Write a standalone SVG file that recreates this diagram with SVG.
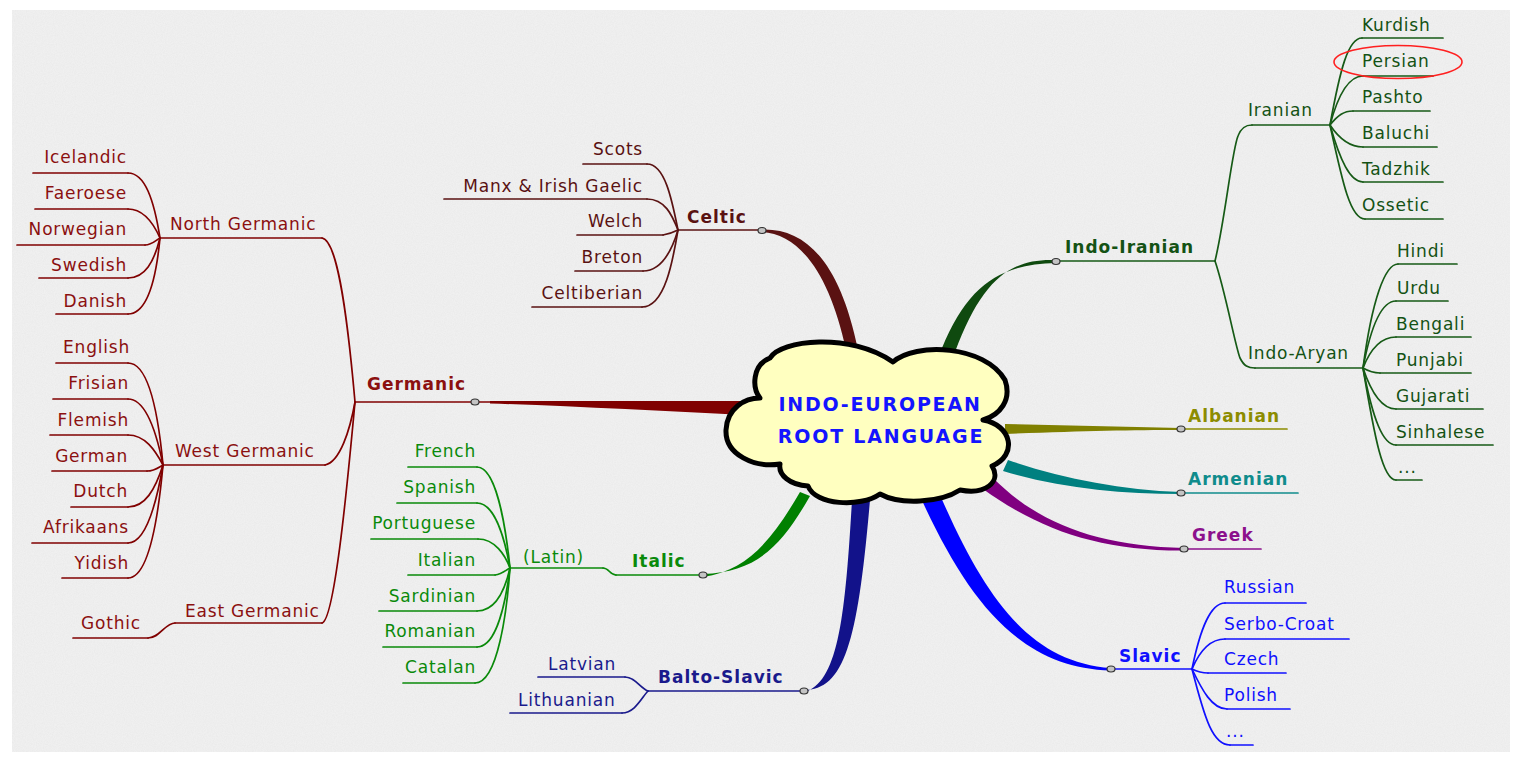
<svg xmlns="http://www.w3.org/2000/svg" width="1513" height="757" viewBox="0 0 1513 757">
<defs>
<filter id="tex" x="0" y="0" width="100%" height="100%">
<feTurbulence type="fractalNoise" baseFrequency="0.9" numOctaves="2" seed="4"/>
<feColorMatrix type="matrix" values="0 0 0 0 0.55  0 0 0 0 0.55  0 0 0 0 0.55  0 0 0 0.22 -0.06"/>
</filter>
</defs>
<style>
text{font-family:"DejaVu Sans","Liberation Sans",sans-serif;font-size:17px;letter-spacing:0.8px}
.b{font-weight:bold;letter-spacing:1px}
.r{text-anchor:end}
.c{text-anchor:middle}
line,.ln{fill:none;stroke-width:1.7;stroke-linecap:round}
.knob{fill:#c4c4c4;stroke:#333;stroke-width:1.2}
.ger line,.ger .ln{stroke:#800000}.ger text{fill:#8b1010}.ger .tp{fill:#800000}
.cel line,.cel .ln{stroke:#5a1212}.cel text{fill:#5a1212}.cel .tp{fill:#5a1212}
.ita line,.ita .ln{stroke:#0a8a0a}.ita text{fill:#0a8a0a}.ita .tp{fill:#008000}
.bal line,.bal .ln{stroke:#1a1a8c}.bal text{fill:#1a1a8c}.bal .tp{fill:#12128a}
.ind line,.ind .ln{stroke:#165a16}.ind text{fill:#145214}.ind .tp{fill:#0f4a0f}
.alb line,.alb .ln{stroke:#8c8c00}.alb text{fill:#8c8c00}.alb .tp{fill:#808000}
.arm line,.arm .ln{stroke:#108c8c}.arm text{fill:#108c8c}.arm .tp{fill:#008080}
.gre line,.gre .ln{stroke:#8c108c}.gre text{fill:#8c108c}.gre .tp{fill:#800080}
.sla line,.sla .ln{stroke:#1010ff}.sla text{fill:#1010ff}.sla .tp{fill:#0000ff}
</style>
<rect width="1513" height="757" fill="#ffffff"/>
<rect x="12" y="10" width="1498" height="742" fill="#f0f0f0"/>
<rect x="12" y="10" width="1498" height="742" filter="url(#tex)"/>

<g id="connectors">
<g class="ger">
<path class="tp" d="M490,401 L745,401 L745,415 C660,411 570,406 490,403.5 Z"/>
<path class="ln" d="M322,238 C336,240 346,300 355,402"/>
<path class="ln" d="M325,465 C340,462 350,430 355,402"/>
<path class="ln" d="M322,623 C334,620 346,500 355,402"/>
<path class="ln" d="M128,173 C145,173 154,200 160,238"/>
<path class="ln" d="M128,209 C142,209 152,220 160,238"/>
<path class="ln" d="M145,245 C152,245 156,240 160,238"/>
<path class="ln" d="M128,278 C145,278 154,262 160,238"/>
<path class="ln" d="M128,314 C147,314 156,280 160,238"/>
<path class="ln" d="M128,363 C146,363 157,400 163,465"/>
<path class="ln" d="M128,399 C145,399 156,430 163,465"/>
<path class="ln" d="M128,435 C145,435 155,450 163,465"/>
<path class="ln" d="M147,471 C155,471 159,467 163,465"/>
<path class="ln" d="M128,507 C145,507 155,490 163,465"/>
<path class="ln" d="M128,543 C146,543 157,500 163,465"/>
<path class="ln" d="M128,578 C148,578 158,520 163,465"/>
<path class="ln" d="M148,638 C160,638 165,623 175,623"/>
</g>
<g class="cel">
<path class="tp" d="M762,229.5 C806,228 840,262 858,350 L846,350 C830,275 800,234 762,232 Z"/>
<path class="ln" d="M647,164 C665,164 672,200 678,230"/>
<path class="ln" d="M647,199 C665,199 672,215 678,230"/>
<path class="ln" d="M663,235 C670,234 674,232 678,230"/>
<path class="ln" d="M643,271 C662,271 672,250 678,230"/>
<path class="ln" d="M642,307 C665,307 673,260 678,230"/>
</g>
<g class="ita">
<path class="tp" d="M703,574 C758,572 782,545 810,496 L800,492 C772,540 748,570 703,577 Z"/>
<path class="ln" d="M477,467 C495,467 505,520 510,568"/>
<path class="ln" d="M477,503 C495,503 505,540 510,568"/>
<path class="ln" d="M478,539 C495,539 505,555 510,568"/>
<path class="ln" d="M495,575 C502,574 506,570 510,568"/>
<path class="ln" d="M477,611 C495,611 505,590 510,568"/>
<path class="ln" d="M477,647 C497,647 506,600 510,568"/>
<path class="ln" d="M475,683 C498,683 507,610 510,568"/>
<path class="ln" d="M603,568 C609,568 610,575 616,575"/>
</g>
<g class="bal">
<path class="tp" d="M804,690 C845,690 858,640 870,500 L852,500 C845,620 838,682 804,692.5 Z"/>
<path class="ln" d="M625,677 C635,677 640,688 648,691"/>
<path class="ln" d="M622,713 C635,713 642,697 648,691"/>
</g>
<g class="ind">
<path class="tp" d="M1056,260 C1010,258 982,280 955,352 L942,348 C968,285 1000,264 1056,263 Z"/>
<path class="ln" d="M1215,261 C1225,220 1232,150 1238,136 C1241,128 1245,125 1252,125"/>
<path class="ln" d="M1215,261 C1225,290 1235,345 1240,358 C1244,366 1248,368 1255,368"/>
<path class="ln" d="M1330,125 C1340,70 1348,38 1362,38"/>
<path class="ln" d="M1330,125 C1338,95 1348,76 1363,76"/>
<path class="ln" d="M1330,125 C1338,115 1344,111 1353,111"/>
<path class="ln" d="M1330,125 C1340,140 1350,147 1363,147"/>
<path class="ln" d="M1330,125 C1340,160 1350,182 1363,182"/>
<path class="ln" d="M1330,125 C1342,180 1350,219 1365,219"/>
<path class="ln" d="M1363,368 C1372,300 1385,264 1398,264"/>
<path class="ln" d="M1363,368 C1372,320 1383,301 1396,301"/>
<path class="ln" d="M1363,368 C1372,345 1383,337 1396,337"/>
<path class="ln" d="M1363,368 C1370,372 1375,373 1380,373"/>
<path class="ln" d="M1363,368 C1372,395 1383,409 1396,409"/>
<path class="ln" d="M1363,368 C1373,420 1383,445 1396,445"/>
<path class="ln" d="M1363,368 C1375,440 1383,480 1396,480"/>
</g>
<g class="alb"><path class="tp" d="M1181,428 L1005,424 L1005,434 C1080,431 1130,430 1181,430 Z"/></g>
<g class="arm"><path class="tp" d="M1181,492 C1120,490 1060,478 1008,460 L1003,471 C1060,488 1120,494 1181,494 Z"/></g>
<g class="gre"><path class="tp" d="M1184,548 C1100,546 1040,525 993,478 L983,489 C1040,530 1100,551 1184,550.5 Z"/></g>
<g class="sla">
<path class="tp" d="M1111,668 C1030,662 985,600 937,488 L919,494 C968,602 1020,668 1111,670.5 Z"/>
<path class="ln" d="M1192,669 C1200,630 1210,603 1225,603"/>
<path class="ln" d="M1192,669 C1200,650 1210,639 1225,639"/>
<path class="ln" d="M1192,669 C1198,672 1202,673 1208,673"/>
<path class="ln" d="M1192,669 C1202,690 1212,709 1227,709"/>
<path class="ln" d="M1192,669 C1205,720 1213,745 1230,745"/>
</g>
</g>

<g id="root">
<path d="M760,398 C752,388 752,365 770,358 C780,340 850,332 893,362 C915,342 985,345 1005,380 C1012,400 1000,415 983,420 C1012,425 1018,455 992,466 C1002,482 985,495 960,490 C940,503 900,505 880,494 C860,508 815,505 808,486 C790,485 778,475 780,464 C755,468 725,455 726,430 C727,408 745,398 760,398 Z" fill="#ffffc0" stroke="#000" stroke-width="5" stroke-linejoin="round"/>
<text class="b c" x="880" y="411" style="font-size:19px;letter-spacing:1.8px;fill:#1414ff">INDO-EUROPEAN</text>
<text class="b c" x="881" y="443" style="font-size:19px;letter-spacing:1.8px;fill:#1414ff">ROOT LANGUAGE</text>
</g>

<g class="ger">
<g id="germanic"><line x1="355" y1="402" x2="490" y2="402"/><ellipse class="knob" cx="475" cy="402" rx="4" ry="3"/><text class="b" x="367" y="390">Germanic</text></g>
<g id="north-germanic"><line x1="160" y1="238" x2="322" y2="238"/><text x="170" y="230">North Germanic</text></g>
<g id="west-germanic"><line x1="163" y1="465" x2="325" y2="465"/><text x="175" y="457">West Germanic</text></g>
<g id="east-germanic"><line x1="175" y1="623" x2="322" y2="623"/><text x="185" y="617">East Germanic</text></g>
<g id="gothic"><line x1="73" y1="638" x2="148" y2="638"/><text class="r" x="141" y="629">Gothic</text></g>
<g id="icelandic"><line x1="33" y1="173" x2="128" y2="173"/><text class="r" x="127" y="163">Icelandic</text></g>
<g id="faeroese"><line x1="35" y1="209" x2="128" y2="209"/><text class="r" x="127" y="199">Faeroese</text></g>
<g id="norwegian"><line x1="17" y1="245" x2="145" y2="245"/><text class="r" x="127" y="235">Norwegian</text></g>
<g id="swedish"><line x1="39" y1="278" x2="128" y2="278"/><text class="r" x="127" y="271">Swedish</text></g>
<g id="danish"><line x1="56" y1="314" x2="128" y2="314"/><text class="r" x="127" y="307">Danish</text></g>
<g id="english"><line x1="56" y1="363" x2="128" y2="363"/><text class="r" x="130" y="353">English</text></g>
<g id="frisian"><line x1="53" y1="399" x2="128" y2="399"/><text class="r" x="129" y="389">Frisian</text></g>
<g id="flemish"><line x1="50" y1="435" x2="128" y2="435"/><text class="r" x="129" y="426">Flemish</text></g>
<g id="german"><line x1="52" y1="471" x2="147" y2="471"/><text class="r" x="128" y="462">German</text></g>
<g id="dutch"><line x1="71" y1="507" x2="128" y2="507"/><text class="r" x="128" y="497">Dutch</text></g>
<g id="afrikaans"><line x1="32" y1="543" x2="128" y2="543"/><text class="r" x="129" y="533">Afrikaans</text></g>
<g id="yidish"><line x1="62" y1="578" x2="128" y2="578"/><text class="r" x="129" y="569">Yidish</text></g>
</g>

<g class="cel">
<g id="celtic"><line x1="678" y1="230" x2="762" y2="230"/><ellipse class="knob" cx="762" cy="230.5" rx="4" ry="3"/><text class="b" x="687" y="223">Celtic</text></g>
<g id="scots"><line x1="583" y1="164" x2="647" y2="164"/><text class="r" x="643" y="155">Scots</text></g>
<g id="manx"><line x1="444" y1="199" x2="647" y2="199"/><text class="r" x="643" y="192">Manx &amp; Irish Gaelic</text></g>
<g id="welch"><line x1="577" y1="235" x2="663" y2="235"/><text class="r" x="643" y="227">Welch</text></g>
<g id="breton"><line x1="575" y1="271" x2="643" y2="271"/><text class="r" x="643" y="263">Breton</text></g>
<g id="celtiberian"><line x1="532" y1="307" x2="642" y2="307"/><text class="r" x="643" y="299">Celtiberian</text></g>
</g>

<g class="ita">
<g id="italic"><line x1="616" y1="575" x2="703" y2="575"/><ellipse class="knob" cx="703" cy="575" rx="4" ry="3"/><text class="b" x="632" y="567">Italic</text></g>
<g id="latin"><line x1="510" y1="568" x2="603" y2="568"/><text x="523" y="563">(Latin)</text></g>
<g id="french"><line x1="408" y1="467" x2="477" y2="467"/><text class="r" x="476" y="457">French</text></g>
<g id="spanish"><line x1="397" y1="503" x2="477" y2="503"/><text class="r" x="476" y="493">Spanish</text></g>
<g id="portuguese"><line x1="371" y1="539" x2="478" y2="539"/><text class="r" x="476" y="529">Portuguese</text></g>
<g id="italian"><line x1="408" y1="575" x2="495" y2="575"/><text class="r" x="476" y="566">Italian</text></g>
<g id="sardinian"><line x1="379" y1="611" x2="477" y2="611"/><text class="r" x="476" y="602">Sardinian</text></g>
<g id="romanian"><line x1="383" y1="647" x2="477" y2="647"/><text class="r" x="476" y="637">Romanian</text></g>
<g id="catalan"><line x1="403" y1="683" x2="475" y2="683"/><text class="r" x="476" y="673">Catalan</text></g>
</g>

<g class="bal">
<g id="balto-slavic"><line x1="648" y1="691" x2="804" y2="691"/><ellipse class="knob" cx="804" cy="691" rx="4" ry="3"/><text class="b" x="658" y="683">Balto-Slavic</text></g>
<g id="latvian"><line x1="538" y1="677" x2="625" y2="677"/><text x="548" y="670">Latvian</text></g>
<g id="lithuanian"><line x1="510" y1="713" x2="622" y2="713"/><text x="518" y="706">Lithuanian</text></g>
</g>

<g class="ind">
<g id="indo-iranian"><line x1="1056" y1="261" x2="1215" y2="261"/><ellipse class="knob" cx="1056" cy="261.5" rx="4" ry="3"/><text class="b" x="1065" y="253">Indo-Iranian</text></g>
<g id="iranian"><line x1="1252" y1="125" x2="1330" y2="125"/><text x="1248" y="116">Iranian</text></g>
<g id="kurdish"><line x1="1362" y1="38" x2="1443" y2="38"/><text x="1362" y="31">Kurdish</text></g>
<g id="persian"><line x1="1363" y1="76" x2="1433" y2="76"/><text x="1362" y="67">Persian</text><ellipse cx="1398" cy="62" rx="64" ry="16.5" fill="none" stroke="#ff2020" stroke-width="1.6"/></g>
<g id="pashto"><line x1="1353" y1="111" x2="1430" y2="111"/><text x="1362" y="103">Pashto</text></g>
<g id="baluchi"><line x1="1363" y1="147" x2="1437" y2="147"/><text x="1362" y="139">Baluchi</text></g>
<g id="tadzhik"><line x1="1363" y1="182" x2="1443" y2="182"/><text x="1362" y="175">Tadzhik</text></g>
<g id="ossetic"><line x1="1365" y1="219" x2="1443" y2="219"/><text x="1362" y="211">Ossetic</text></g>
<g id="indo-aryan"><line x1="1255" y1="368" x2="1363" y2="368"/><text x="1248" y="359">Indo-Aryan</text></g>
<g id="hindi"><line x1="1398" y1="264" x2="1457" y2="264"/><text x="1397" y="257">Hindi</text></g>
<g id="urdu"><line x1="1396" y1="301" x2="1448" y2="301"/><text x="1397" y="294">Urdu</text></g>
<g id="bengali"><line x1="1396" y1="337" x2="1471" y2="337"/><text x="1396" y="330">Bengali</text></g>
<g id="punjabi"><line x1="1380" y1="373" x2="1471" y2="373"/><text x="1396" y="366">Punjabi</text></g>
<g id="gujarati"><line x1="1396" y1="409" x2="1483" y2="409"/><text x="1396" y="402">Gujarati</text></g>
<g id="sinhalese"><line x1="1396" y1="445" x2="1493" y2="445"/><text x="1396" y="438">Sinhalese</text></g>
<g id="indo-aryan-more"><line x1="1396" y1="480" x2="1422" y2="480"/><text x="1398" y="473">...</text></g>
</g>

<g class="alb" id="albanian"><line x1="1181" y1="429" x2="1287" y2="429"/><ellipse class="knob" cx="1181" cy="429" rx="4" ry="3"/><text class="b" x="1188" y="422">Albanian</text></g>
<g class="arm" id="armenian"><line x1="1181" y1="493" x2="1298" y2="493"/><ellipse class="knob" cx="1181" cy="493" rx="4" ry="3"/><text class="b" x="1188" y="485">Armenian</text></g>
<g class="gre" id="greek"><line x1="1184" y1="549" x2="1261" y2="549"/><ellipse class="knob" cx="1184" cy="549" rx="4" ry="3"/><text class="b" x="1192" y="541">Greek</text></g>

<g class="sla">
<g id="slavic"><line x1="1111" y1="669" x2="1192" y2="669"/><ellipse class="knob" cx="1111" cy="669" rx="4" ry="3"/><text class="b" x="1119" y="662">Slavic</text></g>
<g id="russian"><line x1="1225" y1="603" x2="1306" y2="603"/><text x="1224" y="593">Russian</text></g>
<g id="serbo-croat"><line x1="1225" y1="639" x2="1349" y2="639"/><text x="1224" y="630">Serbo-Croat</text></g>
<g id="czech"><line x1="1208" y1="673" x2="1286" y2="673"/><text x="1224" y="665">Czech</text></g>
<g id="polish"><line x1="1227" y1="709" x2="1290" y2="709"/><text x="1224" y="701">Polish</text></g>
<g id="slavic-more"><line x1="1230" y1="745" x2="1253" y2="745"/><text x="1226" y="737">...</text></g>
</g>
</svg>
